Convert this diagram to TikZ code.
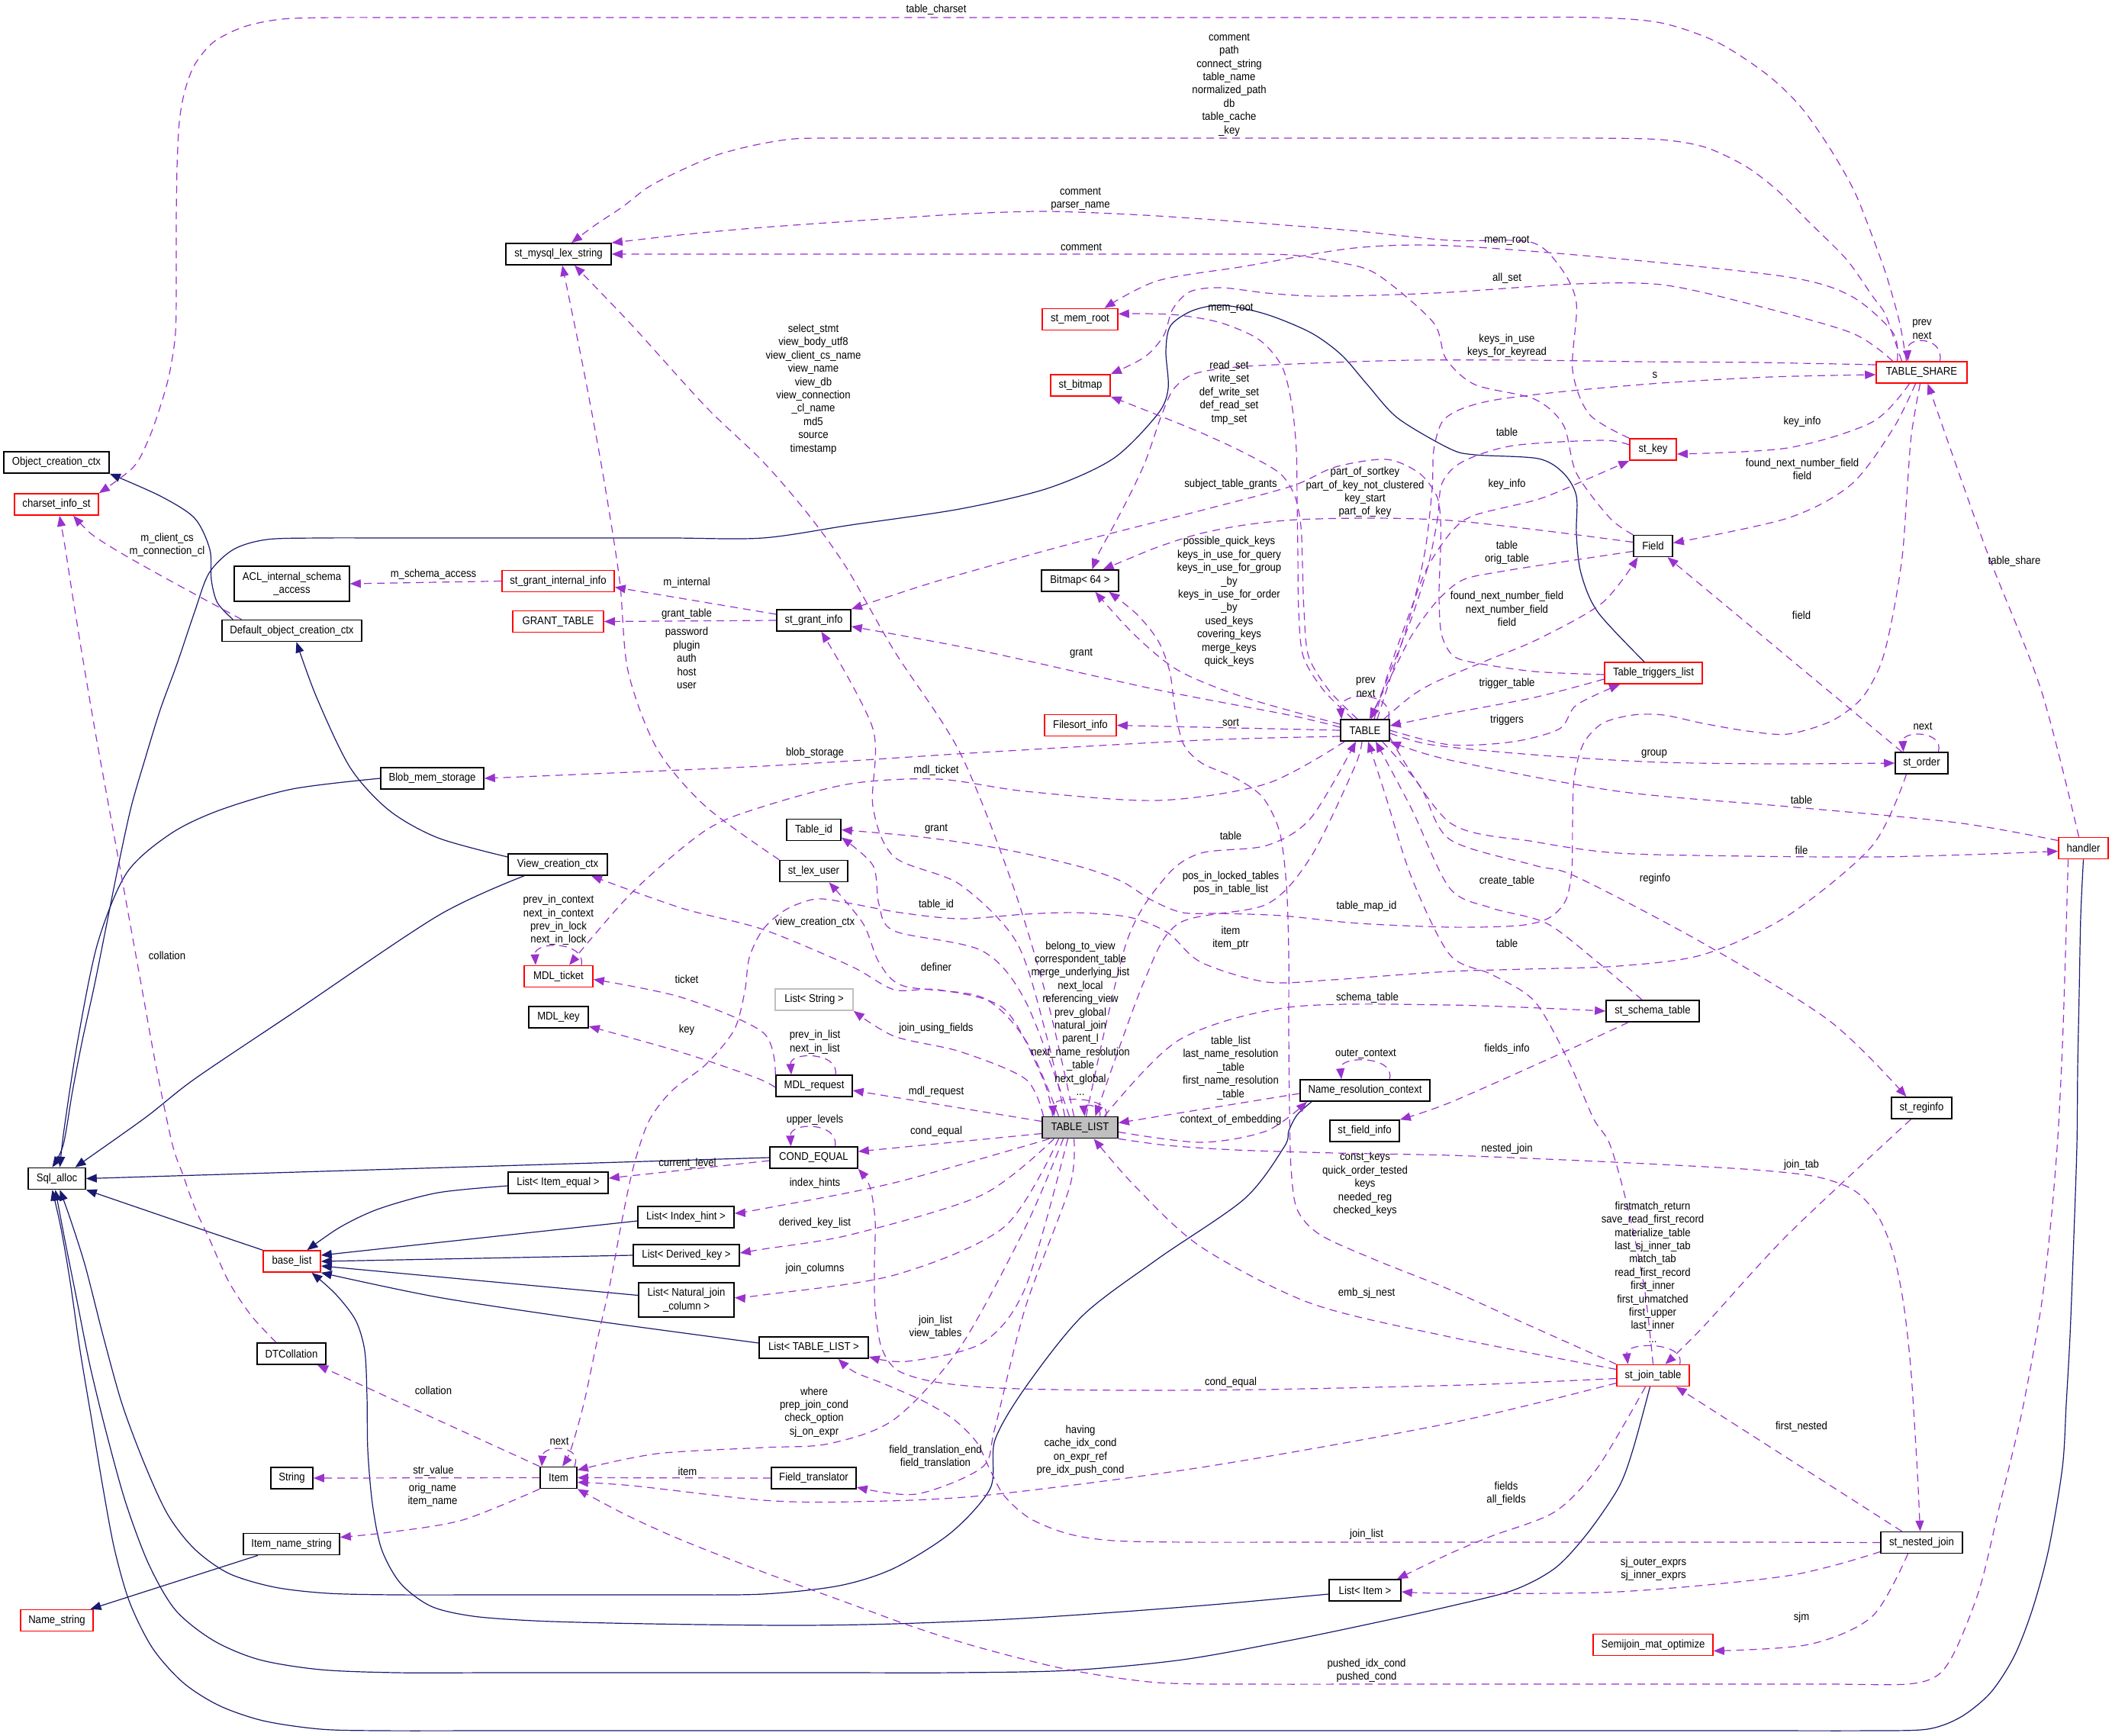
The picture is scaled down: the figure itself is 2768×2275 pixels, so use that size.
\documentclass[tikz,border=0pt]{standalone}
\usepackage{fontspec}
\setmainfont{Liberation Sans}[FakeStretch=0.9]
\usetikzlibrary{arrows.meta}
\definecolor{purp}{RGB}{154,50,205}
\definecolor{navyb}{RGB}{25,25,112}
\definecolor{gry}{RGB}{191,191,191}
\newcommand{\diafont}{\fontsize{7.3}{8.7}\selectfont}
\tikzset{
  cls/.style={draw=black, line width=0.8pt, fill=white, inner sep=0pt, minimum height=14pt, font=\diafont, align=center},
  redb/.style={cls, draw=red},
  lbl/.style={font=\diafont, align=center, inner sep=0pt},
  inhedge/.style={draw=navyb, line width=0.6pt, -{Triangle[length=7pt,width=5.5pt]}},
  usedge/.style={draw=purp, line width=0.6pt, dash pattern=on 5pt off 3.5pt, -{Triangle[length=7pt,width=5.5pt]}},
}
\begin{document}
\begin{tikzpicture}[x=0.5pt,y=-0.5pt]
\fill[white] (0,0) rectangle (2768,2275);
\path[use as bounding box] (0,0) rectangle (2768,2275);

% ---------- nodes ----------
\node[cls, minimum width=69pt] (Obj) at (74,606) {Object\_creation\_ctx};
\node[redb, minimum width=55pt] (charset) at (74,661) {charset\_info\_st};
\node[cls, minimum width=69pt] (lex) at (732,333) {st\_mysql\_lex\_string};
\node[cls, minimum width=75.5pt, minimum height=23pt] (ACL) at (382.5,765) {ACL\_internal\_schema\\\_access};
\node[cls, minimum width=91.5pt] (DOC) at (382.5,826.5) {Default\_object\_creation\_ctx};
\node[redb, minimum width=73.5pt] (sgii) at (731.5,761.5) {st\_grant\_internal\_info};
\node[redb, minimum width=59.5pt] (GT) at (731.5,814.5) {GRANT\_TABLE};
\node[cls, minimum width=67.5pt] (Blob) at (566.5,1020) {Blob\_mem\_storage};
\node[cls, minimum width=65pt] (VCC) at (731,1133) {View\_creation\_ctx};
\node[redb, minimum width=45pt] (MDLt) at (732,1279.5) {MDL\_ticket};
\node[cls, minimum width=39pt] (MDLk) at (732,1333) {MDL\_key};
\node[cls, minimum width=37.5pt] (Sql) at (74.5,1544.5) {Sql\_alloc};
\node[cls, minimum width=65.5pt] (LIE) at (731.5,1550) {List< Item\_equal >};
\node[cls, minimum width=63pt] (LIH) at (899,1595) {List< Index\_hint >};
\node[redb, minimum width=37.5pt] (blist) at (382.5,1653) {base\_list};
\node[cls, minimum width=69.5pt] (LDK) at (899.5,1645) {List< Derived\_key >};
\node[cls, minimum width=62.5pt, minimum height=22.5pt] (LNJ) at (899.5,1703.5) {List< Natural\_join\\\_column >};
\node[cls, minimum width=45pt] (DTC) at (382,1774) {DTCollation};
\node[cls, minimum width=27.5pt] (Str) at (382.5,1937) {String};
\node[cls, minimum width=24pt] (Item) at (732,1936.5) {Item};
\node[cls, minimum width=63pt] (INS) at (382,2023.5) {Item\_name\_string};
\node[redb, minimum width=47.5pt] (NameS) at (74.5,2123.5) {Name\_string};
\node[redb, minimum width=49.5pt] (memroot) at (1415.5,418.5) {st\_mem\_root};
\node[redb, minimum width=39pt] (bitmap) at (1416,505) {st\_bitmap};
\node[cls, minimum width=50.5pt] (B64) at (1415.5,761) {Bitmap< 64 >};
\node[cls, minimum width=48.5pt] (sgi) at (1066.5,813) {st\_grant\_info};
\node[redb, minimum width=47pt] (Fsort) at (1416,950.5) {Filesort\_info};
\node[cls, minimum width=32pt] (TABLE) at (1789,957) {TABLE};
\node[cls, minimum width=35.5pt] (Tid) at (1066.5,1087.5) {Table\_id};
\node[cls, minimum width=44.5pt] (lexuser) at (1066.5,1141.5) {st\_lex\_user};
\node[cls, draw=gry, minimum width=51pt] (LStr) at (1067,1310) {List< String >};
\node[cls, minimum width=50pt] (MDLr) at (1067,1423) {MDL\_request};
\node[cls, fill=gry, minimum width=49.5pt] (TL) at (1415.5,1477.5) {TABLE\_LIST};
\node[cls, minimum width=85pt] (NRC) at (1789,1429) {Name\_resolution\_context};
\node[cls, minimum width=45.5pt] (sfi) at (1788.5,1482) {st\_field\_info};
\node[cls, minimum width=57.5pt] (CE) at (1066.5,1517) {COND\_EQUAL};
\node[cls, minimum width=71.5pt] (LTL) at (1066.5,1766) {List< TABLE\_LIST >};
\node[cls, minimum width=55.5pt] (FT) at (1066.5,1937) {Field\_translator};
\node[cls, minimum width=47pt] (LI) at (1789,2084) {List< Item >};
\node[redb, minimum width=59.5pt] (TS) at (2518.5,488) {TABLE\_SHARE};
\node[redb, minimum width=30.5pt] (stkey) at (2166.5,589) {st\_key};
\node[cls, minimum width=25.5pt] (Field) at (2166.5,715.5) {Field};
\node[redb, minimum width=64pt] (TTL) at (2167,882) {Table\_triggers\_list};
\node[cls, minimum width=34.5pt] (order) at (2518.5,1000) {st\_order};
\node[redb, minimum width=32.5pt] (handler) at (2730.5,1111.5) {handler};
\node[cls, minimum width=61pt] (sst) at (2166,1325) {st\_schema\_table};
\node[cls, minimum width=39.5pt] (reginfo) at (2518.5,1452) {st\_reginfo};
\node[redb, minimum width=47.5pt] (sjt) at (2166.5,1802.5) {st\_join\_table};
\node[cls, minimum width=53.5pt] (snj) at (2518.5,2021.5) {st\_nested\_join};
\node[redb, minimum width=78.5pt] (SMO) at (2166.5,2155.5) {Semijoin\_mat\_optimize};

% ---------- inheritance ----------
\draw[inhedge] plot[smooth] coordinates {([xshift=7.5pt]DOC.north west) (285,790) (277,760) (275,720) (255,679) (210,650) (Obj.south east)};
\draw[inhedge] plot[smooth] coordinates {([yshift=5pt]VCC.west) (574,1098) (510,1062) (459,1006) (415,914) ([xshift=3pt]DOC.south)};
\draw[inhedge] plot[smooth] coordinates {([xshift=-22pt]VCC.south) (574,1200) (383,1328) (255,1414) (190,1465) ([xshift=12pt]Sql.north)};
\draw[inhedge] plot[smooth] coordinates {(Blob.west) (383,1034) (287,1062) (223,1093) (166,1144) (128,1236) (102,1363) (84,1480) ([xshift=2pt]Sql.north)};
\draw[inhedge] plot[smooth] coordinates {([xshift=-6pt]TTL.north) (2094,802) (2072,751) (2066,700) (2066,650) (2049,620) (2016,601) (1933,596) (1900,588) (1832,548) (1792,504) (1758,465) (1718,436) (1660,412) (1603,400) (1563,407) (1534,427) (1528,460) (1531,509) (1517,543) (1459,601) (1373,640) (1258,667) (1115,688) (1000,705) (880,705) (760,705) (640,705) (520,705) (420,705) (350,707) (306,720) (274,751) (255,802) (232,870) (210,930) (190,995) (172,1057) (156,1130) (140,1210) (124,1290) (108,1363) (95,1430) (83,1500) ([xshift=-3pt]Sql.north)};
\draw[inhedge] (CE.west) -- (Sql.east);
\draw[inhedge] plot[smooth] coordinates {([yshift=-2pt]LIE.west) (574,1563) (497,1584) (446,1608) ([xshift=10pt]blist.north)};
\draw[inhedge] ([yshift=-2.5pt]LIH.west) -- ([yshift=4pt]blist.east);
\draw[inhedge] (LDK.west) -- (blist.east);
\draw[inhedge] ([yshift=3pt]LNJ.west) -- ([yshift=-3pt]blist.east);
\draw[inhedge] plot[smooth] coordinates {([yshift=3pt]LTL.west) (765,1729) (574,1700) (blist.south east)};
\draw[inhedge] plot[smooth] coordinates {(blist.north west) (255,1608) (Sql.south east)};
\draw[inhedge] plot[smooth] coordinates {([yshift=-2.5pt]LI.west) (1600,2102) (1459,2113) (1320,2122) (1172,2128) (1050,2130) (920,2129) (800,2127) (700,2124) (620,2118) (565,2105) (525,2075) (500,2030) (488,1970) (482,1900) (481,1830) (478,1770) (466,1730) (440,1696) ([xshift=13pt]blist.south)};
\draw[inhedge] plot[smooth] coordinates {([xshift=-35pt]NRC.south) (1700,1461) (1689,1482) (1683,1503) (1631,1571) (1517,1650) (1419,1724) (1344,1818) (1304,1887) (1298,1950) (1247,2008) (1172,2055) (1100,2078) (1000,2089) (880,2090) (760,2090) (640,2090) (520,2090) (430,2088) (360,2080) (300,2062) (255,2030) (220,1985) (190,1920) (160,1840) (135,1750) (112,1660) (93,1600) ([xshift=2pt]Sql.south)};
\draw[inhedge] plot[smooth] coordinates {([xshift=-2pt]sjt.south) (2140,1900) (2121,1950) (2080,2010) (2038,2055) (1983,2084) (1900,2105) (1800,2127) (1689,2150) (1550,2175) (1402,2189) (1250,2192) (1100,2192) (950,2192) (800,2192) (650,2192) (520,2192) (420,2188) (340,2175) (280,2150) (230,2110) (195,2050) (165,1970) (140,1880) (118,1790) (100,1700) (86,1630) ([xshift=-1pt]Sql.south)};
\draw[inhedge] plot[smooth] coordinates {(handler.south) (2727,1200) (2725,1300) (2723,1400) (2722,1500) (2718,1620) (2713,1750) (2708,1840) (2703,1923) (2685,2030) (2664,2108) (2640,2170) (2609,2218) (2570,2250) (2526,2266) (2450,2268) (2300,2268) (2150,2268) (2000,2268) (1850,2268) (1700,2268) (1550,2268) (1400,2268) (1250,2268) (1100,2268) (950,2268) (800,2268) (650,2268) (500,2268) (420,2266) (345,2255) (287,2235) (240,2205) (200,2160) (170,2100) (150,2030) (135,1950) (120,1860) (105,1770) (92,1680) (80,1610) ([xshift=-3pt]Sql.south)};
\draw[inhedge] ([xshift=-22pt]INS.south) -- ([xshift=22pt]NameS.north);

% ---------- usage ----------
\draw[usedge] plot[smooth] coordinates {([xshift=-10pt]TS.north) (2493,440) (2487,412) (2472,360) (2454,310) (2430,250) (2398,194) (2360,140) (2315,97) (2250,55) (2177,30) (2090,23) (1950,23) (1800,23) (1650,23) (1500,23) (1350,23) (1200,23) (1050,23) (900,23) (750,23) (620,23) (520,23) (440,23) (370,25) (320,35) (280,55) (255,85) (242,120) (235,160) (232,220) (231,291) (231,360) (230,436) (222,490) (210,533) (195,575) (175,612) (charset.north east)};
\draw[usedge] plot[smooth] coordinates {([xshift=-13pt]TS.north) (2481,440) (2470,410) (2454,388) (2420,340) (2371,291) (2330,250) (2288,218) (2235,193) (2177,183) (2090,181) (1950,181) (1800,181) (1650,181) (1500,181) (1350,181) (1200,181) (1100,181) (1040,182) (990,190) (940,203) (893,223) (850,245) (816,271) (780,295) ([xshift=8.5pt]lex.north)};
\draw[usedge] plot[smooth] coordinates {(stkey.north west) (2083,543) (2061,485) (2066,397) (2044,349) (2005,317) (1900,315) (1770,302) (1631,291) (1500,282) (1373,277) (1270,280) (1172,286) (1000,298) (900,307) (lex.north east)};
\draw[usedge] plot[smooth] coordinates {(Field.north west) (2110,679) (2066,620) (2049,557) (2011,523) (1933,504) (1895,470) (1878,422) (1804,359) (1750,343) (1689,334) (1600,333) (1450,333) (1300,333) (1150,333) (1000,333) (880,333) (lex.east)};
\draw[usedge] plot[smooth] coordinates {([xshift=-16pt]TS.north) (2481,436) (2426,388) (2343,363) (2121,339) (1900,322) (1775,325) (1631,349) (1517,368) ([xshift=16pt]memroot.north)};
\draw[usedge] plot[smooth] coordinates {([xshift=-19pt]TS.north) (2426,436) (2288,397) (2177,373) (2066,372) (1900,383) (1800,387) (1720,388) (1660,384) (1600,377) (1560,382) (1537,405) (1525,440) (1500,468) (bitmap.north east)};
\draw[usedge] plot[smooth] coordinates {([yshift=5pt]TS.west) (2300,475) (2150,474) (2000,472) (1850,472) (1720,476) (1620,481) (1565,490) (1538,510) (1522,545) (1510,580) (1499,610) (1480,650) (1459,690) (1440,725) ([xshift=8pt]B64.north)};
\draw[usedge] plot[smooth] coordinates {([xshift=8pt]TABLE.north) (1825,880) (1850,800) (1868,720) (1877,640) (1879,590) (1890,553) (1915,536) (1960,524) (2050,513) (2177,502) (2320,494) ([yshift=-1.5pt]TS.west)};
\draw[usedge] plot[smooth] coordinates {([xshift=6pt]TABLE.north) (1820,880) (1845,810) (1870,745) (1903,696) (1933,675) (2017,654) (2080,628) (stkey.south west)};
\draw[usedge] plot[smooth] coordinates {([yshift=3pt]stkey.west) (2100,577) (1983,584) (1917,605) (1890,633) (1884,680) (1872,740) (1850,810) (1822,880) ([xshift=4pt]TABLE.north)};
\draw[usedge] plot[smooth] coordinates {([yshift=-3.5pt]Field.west) (2050,736) (1967,749) (1917,760) (1883,788) (1850,833) (1823,886) ([xshift=3pt]TABLE.north)};
\draw[usedge] plot[smooth] coordinates {([xshift=-4pt]TABLE.north east) (1850,912) (1883,893) (1950,865) (2017,837) (2100,790) ([xshift=-10pt]Field.south)};
\draw[usedge] plot[smooth] coordinates {([yshift=-4pt]TTL.west) (2011,914) (1900,935) ([yshift=3pt]TABLE.east)};
\draw[usedge] plot[smooth] coordinates {(TABLE.east) (1900,976) (1983,972) (2044,955) (2066,924) ([xshift=-22pt]TTL.south)};
\draw[usedge] plot[smooth] coordinates {([yshift=-1pt]TTL.west) (2011,880) (1930,868) (1903,858) (1889,830) (1886,780) (1888,720) (1888,682) (1883,650) (1860,620) (1817,602) (1750,612) (1693,637) (1574,669) (1402,713) (1230,761) (sgi.north east)};
\draw[usedge] plot[smooth] coordinates {([yshift=2.5pt]Field.west) (2020,695) (1900,682) (1800,679) (1700,681) (1631,688) (1570,700) (1517,717) (1480,732) ([xshift=15pt]B64.north)};
\draw[usedge] plot[smooth] coordinates {([yshift=4pt]TABLE.west) (1631,914) (1545,879) (1488,833) ([xshift=10pt]B64.south)};
\draw[usedge] plot[smooth] coordinates {(sjt.north west) (2000,1735) (1900,1690) (1800,1650) (1730,1618) (1700,1585) (1692,1530) (1690,1450) (1689,1350) (1689,1250) (1686,1160) (1677,1090) (1655,1045) (1620,1020) (1575,1000) (1551,975) (1540,930) (1533,880) (1518,840) (1490,805) ([xshift=19pt]B64.south)};
\draw[usedge] plot[smooth] coordinates {([xshift=-8pt]TABLE.north) (1735,905) (1708,860) (1702,800) (1701,730) (1700,660) (1699,590) (1693,530) (1680,480) (1650,445) (1600,423) (1545,413) (1500,411) ([yshift=3.5pt]memroot.east)};
\draw[usedge] plot[smooth] coordinates {([xshift=-5pt]TABLE.north) (1742,905) (1715,860) (1709,800) (1707,740) (1705,690) (1697,650) (1677,620) (1630,593) (1574,567) (1515,543) (bitmap.south east)};
\draw[usedge] (TABLE.west) -- (Fsort.east);
\draw[usedge] plot[smooth] coordinates {([yshift=2pt]TABLE.west) (1689,937) (1517,904) (1287,853) ([yshift=-4pt]sgi.east)};
\draw[usedge] plot[smooth] coordinates {([yshift=-4pt]TABLE.west) (1574,970) (1287,986) (1000,1004) (Blob.east)};
\draw[usedge] plot[smooth] coordinates {([xshift=3pt]TABLE.south west) (1660,1027) (1517,1049) (1344,1037) (1230,1021) (1115,1027) (1000,1057) (925,1088) (829,1169) ([xshift=7pt]MDLt.north)};
\draw[usedge] plot[smooth] coordinates {([xshift=4pt]TL.north) (1476,1236) (1528,1149) (1574,1118) (1660,1108) (1718,1072) ([xshift=-6pt]TABLE.south)};
\draw[usedge] plot[smooth] coordinates {([xshift=-2pt]TABLE.south) (1775,1006) (1718,1123) (1660,1185) (1545,1210) (1499,1287) ([xshift=10pt]TL.north)};
\draw[usedge] plot[smooth] coordinates {([xshift=-10pt]order.south) (2454,1108) (2343,1200) (2232,1251) (2121,1266) (2000,1270) (1900,1273) (1800,1280) (1746,1284) (1660,1287) (1574,1261) (1530,1222) (1480,1202) (1410,1196) (1344,1198) (1258,1204) (1180,1196) (1115,1184) (1070,1178) (1030,1192) (1000,1218) (982,1255) (976,1300) (962,1350) (925,1395) (880,1430) (850,1470) (830,1530) (815,1600) (800,1680) (782,1760) (765,1840) (748,1900) ([xshift=2.5pt]Item.north)};
\draw[usedge] plot[smooth] coordinates {([xshift=-18pt]TL.north) (1367,1414) (1316,1322) (1230,1297) (1172,1297) (1115,1266) (1000,1218) (893,1190) ([xshift=22pt]VCC.south)};
\draw[usedge] plot[smooth] coordinates {([xshift=-14pt]TL.north) (1344,1363) (1287,1307) (1184,1292) (1152,1261) (1131,1210) ([xshift=10pt]lexuser.south)};
\draw[usedge] plot[smooth] coordinates {([xshift=-7pt]TL.north) (1344,1312) (1287,1246) (1172,1220) (1152,1185) (1144,1134) ([yshift=-5pt]Tid.east)};
\draw[usedge] plot[smooth] coordinates {([xshift=-10pt]TL.north) (1373,1363) (1333,1236) (1258,1159) (1172,1123) (1144,1057) (1144,955) ([xshift=5pt]sgi.south)};
\draw[usedge] plot[smooth] coordinates {([xshift=-4pt]TL.north) (1373,1312) (1327,1159) (1258,986) (1172,853) (1110,745) (1060,675) (1000,605) (925,533) (829,427) ([xshift=10.5pt]lex.south)};
\draw[usedge] plot[smooth] coordinates {(lexuser.north west) (925,1057) (861,981) (823,879) (812,760) (790,620) (765,485) ([xshift=2.5pt]lex.south)};
\draw[usedge] ([yshift=4pt]sgi.west) -- ([yshift=-4pt]sgii.east);
\draw[usedge] (sgi.west) -- (GT.east);
\draw[usedge] (sgii.west) -- (ACL.east);
\draw[usedge] plot[smooth] coordinates {([xshift=-33pt]DOC.north) (223,761) (159,725) (120,700) ([xshift=11pt]charset.south)};
\draw[usedge] plot[smooth] coordinates {([xshift=-10pt]DTC.north) (330,1725) (300,1680) (275,1625) (255,1582) (240,1540) (226,1500) (205,1400) (185,1290) (165,1180) (145,1070) (125,960) (108,860) (95,780) (85,715) ([xshift=2pt]charset.south)};
\draw[usedge] (Item.north west) -- ([xshift=17pt]DTC.south);
\draw[usedge] (Item.west) -- (Str.east);
\draw[usedge] plot[smooth] coordinates {(Item.south west) (606,1992) (510,2008) ([yshift=4.5pt]INS.east)};
\draw[usedge] ([xshift=-2pt]Item.north east) .. controls (765,1893) and (712,1893) .. ([xshift=-11pt]Item.north);
\draw[usedge] (FT.west) -- (Item.east);
\draw[usedge] plot[smooth] coordinates {([xshift=-11pt]TL.south) (1344,1608) (1258,1766) (1172,1860) (1086,1892) (1000,1897) (861,1905) ([yshift=5pt]Item.east)};
\draw[usedge] plot[smooth] coordinates {([yshift=-5pt]sjt.west) (1900,1865) (1574,1923) (1287,1960) (1115,1968) (1000,1966) (829,1947) ([yshift=-3pt]Item.east)};
\draw[usedge] plot[smooth] coordinates {([xshift=-10pt]handler.south) (2707,1250) (2703,1370) (2697,1490) (2688,1600) (2675,1713) (2650,1850) (2620,1976) (2595,2080) (2564,2160) (2540,2195) (2500,2207) (2400,2207) (2250,2207) (2100,2207) (1950,2207) (1800,2207) (1650,2207) (1517,2205) (1400,2188) (1287,2160) (1200,2133) (1115,2102) (1000,2060) (893,2018) (820,1985) (Item.south east)};
\draw[usedge] ([yshift=-4pt]TL.west) -- ([yshift=4pt]CE.east);
\draw[usedge] plot[smooth] coordinates {([yshift=-2pt]sjt.west) (1950,1814) (1800,1818) (1650,1821) (1500,1822) (1380,1821) (1290,1818) (1220,1810) (1175,1795) (1155,1765) (1147,1715) (1146,1660) (1147,1600) (1140,1555) (CE.south east)};
\draw[usedge] ([xshift=14pt]CE.north) .. controls (1100,1470) and (1035,1470) .. ([xshift=-15pt]CE.north);
\draw[usedge] ([yshift=-2pt]CE.west) -- ([yshift=3pt]LIE.east);
\draw[usedge] ([yshift=4pt]TL.west) -- ([yshift=-3pt]MDLr.east);
\draw[usedge] plot[smooth] coordinates {(MDLr.north west) (1000,1353) (893,1307) ([yshift=-2pt]MDLt.east)};
\draw[usedge] plot[smooth] coordinates {([yshift=-1pt]MDLr.west) (990,1412) (893,1379) ([yshift=-6pt]MDLk.east)};
\draw[usedge] ([xshift=14pt]MDLr.north) .. controls (1100,1378) and (1035,1378) .. ([xshift=-15pt]MDLr.north);
\draw[usedge] ([xshift=15pt]MDLt.north) .. controls (768,1233) and (700,1233) .. ([xshift=-15pt]MDLt.north);
\draw[usedge] plot[smooth] coordinates {([xshift=-24pt]TL.north) (1344,1414) (1258,1378) (1172,1358) (LStr.south east)};
\draw[usedge] plot[smooth] coordinates {([xshift=-20pt]TL.south) (1172,1550) (1000,1584) ([yshift=2.5pt]LIH.east)};
\draw[usedge] plot[smooth] coordinates {([xshift=-17pt]TL.south) (1287,1566) (1115,1618) (1000,1637) ([yshift=1.5pt]LDK.east)};
\draw[usedge] plot[smooth] coordinates {([xshift=-14pt]TL.south) (1316,1608) (1172,1671) (1000,1697) ([yshift=1.5pt]LNJ.east)};
\draw[usedge] plot[smooth] coordinates {([xshift=-8pt]TL.south) (1344,1687) (1287,1760) (1189,1784) ([yshift=-6pt]LTL.east)};
\draw[usedge] plot[smooth] coordinates {(snj.west) (2300,2021) (2150,2021) (2000,2021) (1850,2021) (1700,2021) (1560,2021) (1459,2019) (1400,2010) (1350,1990) (1316,1960) (1297,1925) (1280,1890) (1250,1860) (1210,1836) (1160,1814) (1120,1798) ([xshift=16pt]LTL.south)};
\draw[usedge] plot[smooth] coordinates {([xshift=-4pt]TL.south) (1402,1555) (1344,1713) (1304,1871) (1287,1923) (1201,1958) ([yshift=-6pt]FT.east)};
\draw[usedge] plot[smooth] coordinates {([yshift=4pt]sjt.west) (1900,1752) (1718,1708) (1574,1634) (1488,1555) ([xshift=9pt]TL.south)};
\draw[usedge] plot[smooth] coordinates {(TL.south east) (1530,1501) (1620,1507) (1750,1511) (1900,1514) (2050,1520) (2177,1526) (2300,1533) (2380,1542) (2430,1560) (2462,1595) (2482,1645) (2495,1710) (2504,1790) (2510,1880) (2514,1950) ([xshift=-1pt]snj.north)};
\draw[usedge] plot[smooth] coordinates {([xshift=16pt]TL.north) (1545,1363) (1689,1320) (1900,1317) (sst.west)};
\draw[usedge] ([yshift=-2pt]NRC.west) -- ([yshift=3pt]TL.east);
\draw[usedge] plot[smooth] coordinates {([yshift=-3pt]TL.east) (1574,1497) (1660,1482) ([xshift=-38pt]NRC.south)};
\draw[usedge] ([xshift=16pt]NRC.north) .. controls (1830,1383) and (1755,1383) .. ([xshift=-15.5pt]NRC.north);
\draw[usedge] plot[smooth] coordinates {([xshift=-16pt]sst.south) (2038,1384) (1900,1445) (sfi.north east)};
\draw[usedge] plot[smooth] coordinates {([xshift=-7pt]sst.north) (2094,1261) (2027,1210) (1955,1190) (1900,1164) (1850,1060) ([xshift=7pt]TABLE.south)};
\draw[usedge] plot[smooth] coordinates {(sjt.north) (2155,1687) (2133,1581) (2110,1500) (2088,1465) (2055,1389) (2011,1312) (1955,1277) (1900,1251) (1850,1150) (1815,1040) ([xshift=2pt]TABLE.south)};
\draw[usedge] plot[smooth] coordinates {([xshift=-5pt]TABLE.south east) (1861,1030) (1900,1100) (2011,1134) (2066,1149) (2232,1236) (2398,1338) ([xshift=-10pt]reginfo.north)};
\draw[usedge] plot[smooth] coordinates {([yshift=-5pt]TABLE.east) (1900,1078) (2011,1103) (2121,1118) (2290,1122) (2454,1123) (2580,1120) ([yshift=-2pt]handler.west)};
\draw[usedge] plot[smooth] coordinates {([yshift=-2pt]TABLE.east) (1870,975) (1950,984) (2050,992) (2177,999) (2330,1001) (order.west)};
\draw[usedge] plot[smooth] coordinates {([yshift=5pt]handler.west) (2564,1078) (2343,1057) (2121,1037) (1900,996) (TABLE.south east)};
\draw[usedge] ([xshift=-13pt]order.north) -- ([xshift=9.5pt]Field.south);
\draw[usedge] ([xshift=11pt]order.north) .. controls (2548,957) and (2493,957) .. ([xshift=-12pt]order.north);
\draw[usedge] plot[smooth] coordinates {([xshift=-8pt]TS.south) (2454,553) (2343,587) ([yshift=-3pt]stkey.east)};
\draw[usedge] plot[smooth] coordinates {([xshift=-4pt]TS.south) (2481,562) (2426,635) (2343,679) ([yshift=2pt]Field.east)};
\draw[usedge] plot[smooth] coordinates {([xshift=-3pt]handler.north) (2675,904) (2603,720) ([xshift=4pt]TS.south)};
\draw[usedge] plot[smooth] coordinates {([xshift=-1pt]TS.south) (2505,570) (2499,650) (2493,730) (2480,810) (2465,870) (2440,915) (2400,945) (2343,962) (2290,958) (2232,948) (2180,937) (2140,937) (2100,948) (2075,975) (2063,1020) (2061,1080) (2060,1140) (2052,1180) (2030,1203) (1990,1213) (1900,1215) (1780,1210) (1680,1200) (1600,1197) (1550,1196) (1510,1180) (1470,1155) (1420,1137) (1350,1120) (1287,1108) (1200,1096) (Tid.east)};
\draw[usedge] ([xshift=12pt]TS.north) .. controls (2548,440) and (2498,440) .. ([xshift=-9pt]TS.north);
\draw[usedge] ([xshift=-1pt]TABLE.north east) .. controls (1828,905) and (1755,905) .. ([xshift=1pt]TABLE.north west);
\draw[usedge] ([xshift=17pt]TL.north) .. controls (1458,1436) and (1378,1436) .. ([xshift=-17pt]TL.north);
\draw[usedge] ([xshift=13pt]TL.north) .. controls (1445,1447) and (1420,1447) .. ([xshift=3pt]TL.north);
\draw[usedge] ([xshift=17.5pt]sjt.north) .. controls (2210,1758) and (2130,1758) .. ([xshift=-16.5pt]sjt.north);
\draw[usedge] plot[smooth] coordinates {([xshift=-7pt]reginfo.south) (2343,1618) (2232,1739) ([xshift=8pt]sjt.north)};
\draw[usedge] ([xshift=-13pt]snj.north) -- ([xshift=15pt]sjt.south);
\draw[usedge] plot[smooth] coordinates {([xshift=-5pt]sjt.south) (2094,1923) (2038,1981) (1955,2013) (1900,2036) ([xshift=21pt]LI.north)};
\draw[usedge] plot[smooth] coordinates {([yshift=-6pt]snj.west) (2343,2065) (2121,2086) (1900,2088) ([yshift=-1pt]LI.east)};
\draw[usedge] plot[smooth] coordinates {([xshift=-9pt]snj.south) (2454,2118) (2371,2155) ([yshift=-4pt]SMO.east)};

% ---------- labels ----------
\node[lbl] (l1) at (1227,13) {table\_charset};
\node[lbl] (l2) at (1611,111) {comment\\path\\connect\_string\\table\_name\\normalized\_path\\db\\table\_cache\\\_key};
\node[lbl] (l3) at (1416,260.5) {comment\\parser\_name};
\node[lbl] (l4) at (1417,324) {comment};
\node[lbl] (l5) at (1975,315) {mem\_root};
\node[lbl] (l6) at (1975,365) {all\_set};
\node[lbl] (l7) at (1975,453) {keys\_in\_use\\keys\_for\_keyread};
\node[lbl] (l8) at (2169,492) {s};
\node[lbl] (l9) at (2519,431.5) {prev\\next};
\node[lbl] (l10) at (1613,404) {mem\_root};
\node[lbl] (l11) at (1611,514.5) {read\_set\\write\_set\\def\_write\_set\\def\_read\_set\\tmp\_set};
\node[lbl] (l12) at (1066,510) {select\_stmt\\view\_body\_utf8\\view\_client\_cs\_name\\view\_name\\view\_db\\view\_connection\\\_cl\_name\\md5\\source\\timestamp};
\node[lbl] (l13) at (1975,566) {table};
\node[lbl] (l14) at (2362,553) {key\_info};
\node[lbl] (l15) at (2362,615) {found\_next\_number\_field\\field};
\node[lbl] (l16) at (1975,635) {key\_info};
\node[lbl] (l17) at (1613,635) {subject\_table\_grants};
\node[lbl] (l18) at (1789,645) {part\_of\_sortkey\\part\_of\_key\_not\_clustered\\key\_start\\part\_of\_key};
\node[lbl] (l19) at (1611,788.5) {possible\_quick\_keys\\keys\_in\_use\_for\_query\\keys\_in\_use\_for\_group\\\_by\\keys\_in\_use\_for\_order\\\_by\\used\_keys\\covering\_keys\\merge\_keys\\quick\_keys};
\node[lbl] (l20) at (1975,724) {table\\orig\_table};
\node[lbl] (l21) at (2640,736) {table\_share};
\node[lbl] (l22) at (219,714) {m\_client\_cs\\m\_connection\_cl};
\node[lbl] (l23) at (568,753) {m\_schema\_access};
\node[lbl] (l24) at (900,764) {m\_internal};
\node[lbl] (l25) at (900,805) {grant\_table};
\node[lbl] (l26) at (900,862.5) {password\\plugin\\auth\\host\\user};
\node[lbl] (l27) at (1975,798) {found\_next\_number\_field\\next\_number\_field\\field};
\node[lbl] (l28) at (2361,806) {field};
\node[lbl] (l29) at (1417,856) {grant};
\node[lbl] (l30) at (1975,896) {trigger\_table};
\node[lbl] (l31) at (1790,900.5) {prev\\next};
\node[lbl] (l32) at (1975,944) {triggers};
\node[lbl] (l33) at (1613,947) {sort};
\node[lbl] (l34) at (2520,952) {next};
\node[lbl] (l35) at (1068,987) {blob\_storage};
\node[lbl] (l36) at (2168,988) {group};
\node[lbl] (l37) at (1227,1010) {mdl\_ticket};
\node[lbl] (l38) at (2361,1048) {table};
\node[lbl] (l39) at (1227,1086) {grant};
\node[lbl] (l40) at (1613,1095) {table};
\node[lbl] (l41) at (2361,1114) {file};
\node[lbl] (l42) at (1613,1157) {pos\_in\_locked\_tables\\pos\_in\_table\_list};
\node[lbl] (l43) at (2169,1152) {reginfo};
\node[lbl] (l44) at (1975,1155) {create\_table};
\node[lbl] (l45) at (732,1206) {prev\_in\_context\\next\_in\_context\\prev\_in\_lock\\next\_in\_lock};
\node[lbl] (l46) at (1227,1186) {table\_id};
\node[lbl] (l47) at (1791,1188) {table\_map\_id};
\node[lbl] (l48) at (1068,1209) {view\_creation\_ctx};
\node[lbl] (l49) at (1613,1229.5) {item\\item\_ptr};
\node[lbl] (l50) at (1975,1236) {table};
\node[lbl] (l51) at (219,1252) {collation};
\node[lbl] (l52) at (1416,1334.5) {belong\_to\_view\\correspondent\_table\\merge\_underlying\_list\\next\_local\\referencing\_view\\prev\_global\\natural\_join\\parent\_l\\next\_name\_resolution\\\_table\\next\_global\\...};
\node[lbl] (l53) at (1227,1267) {definer};
\node[lbl] (l54) at (900,1283) {ticket};
\node[lbl] (l55) at (1792,1308) {schema\_table};
\node[lbl] (l56) at (1227,1348) {join\_using\_fields};
\node[lbl] (l57) at (900,1350) {key};
\node[lbl] (l58) at (1068,1365.5) {prev\_in\_list\\next\_in\_list};
\node[lbl] (l59) at (1613,1399.5) {table\_list\\last\_name\_resolution\\\_table\\first\_name\_resolution\\\_table};
\node[lbl] (l60) at (1790,1381) {outer\_context};
\node[lbl] (l61) at (1975,1375) {fields\_info};
\node[lbl] (l62) at (1227,1431) {mdl\_request};
\node[lbl] (l63) at (1068,1468) {upper\_levels};
\node[lbl] (l64) at (1227,1483) {cond\_equal};
\node[lbl] (l65) at (1613,1468) {context\_of\_embedding};
\node[lbl] (l66) at (1975,1506) {nested\_join};
\node[lbl] (l67) at (901,1525) {current\_level};
\node[lbl] (l68) at (2361,1527) {join\_tab};
\node[lbl] (l69) at (1789,1552) {const\_keys\\quick\_order\_tested\\keys\\needed\_reg\\checked\_keys};
\node[lbl] (l70) at (1068,1551) {index\_hints};
\node[lbl] (l71) at (1068,1603) {derived\_key\_list};
\node[lbl] (l72) at (2166,1667) {firstmatch\_return\\save\_read\_first\_record\\materialize\_table\\last\_sj\_inner\_tab\\match\_tab\\read\_first\_record\\first\_inner\\first\_unmatched\\first\_upper\\last\_inner\\...};
\node[lbl] (l73) at (1068,1663) {join\_columns};
\node[lbl] (l74) at (1791,1695) {emb\_sj\_nest};
\node[lbl] (l75) at (1226,1739) {join\_list\\view\_tables};
\node[lbl] (l76) at (1613,1812) {cond\_equal};
\node[lbl] (l77) at (568,1822) {collation};
\node[lbl] (l78) at (1067,1850.5) {where\\prep\_join\_cond\\check\_option\\sj\_on\_expr};
\node[lbl] (l79) at (2361,1870) {first\_nested};
\node[lbl] (l80) at (1416,1900.5) {having\\cache\_idx\_cond\\on\_expr\_ref\\pre\_idx\_push\_cond};
\node[lbl] (l81) at (733,1889) {next};
\node[lbl] (l82) at (1226,1909) {field\_translation\_end\\field\_translation};
\node[lbl] (l83) at (568,1928) {str\_value};
\node[lbl] (l84) at (901,1928) {item};
\node[lbl] (l85) at (567,1959) {orig\_name\\item\_name};
\node[lbl] (l86) at (1974,1957) {fields\\all\_fields};
\node[lbl] (l87) at (1791,2011) {join\_list};
\node[lbl] (l88) at (2167,2056) {sj\_outer\_exprs\\sj\_inner\_exprs};
\node[lbl] (l89) at (2361,2120) {sjm};
\node[lbl] (l90) at (1791,2189) {pushed\_idx\_cond\\pushed\_cond};
\end{tikzpicture}
\end{document}
